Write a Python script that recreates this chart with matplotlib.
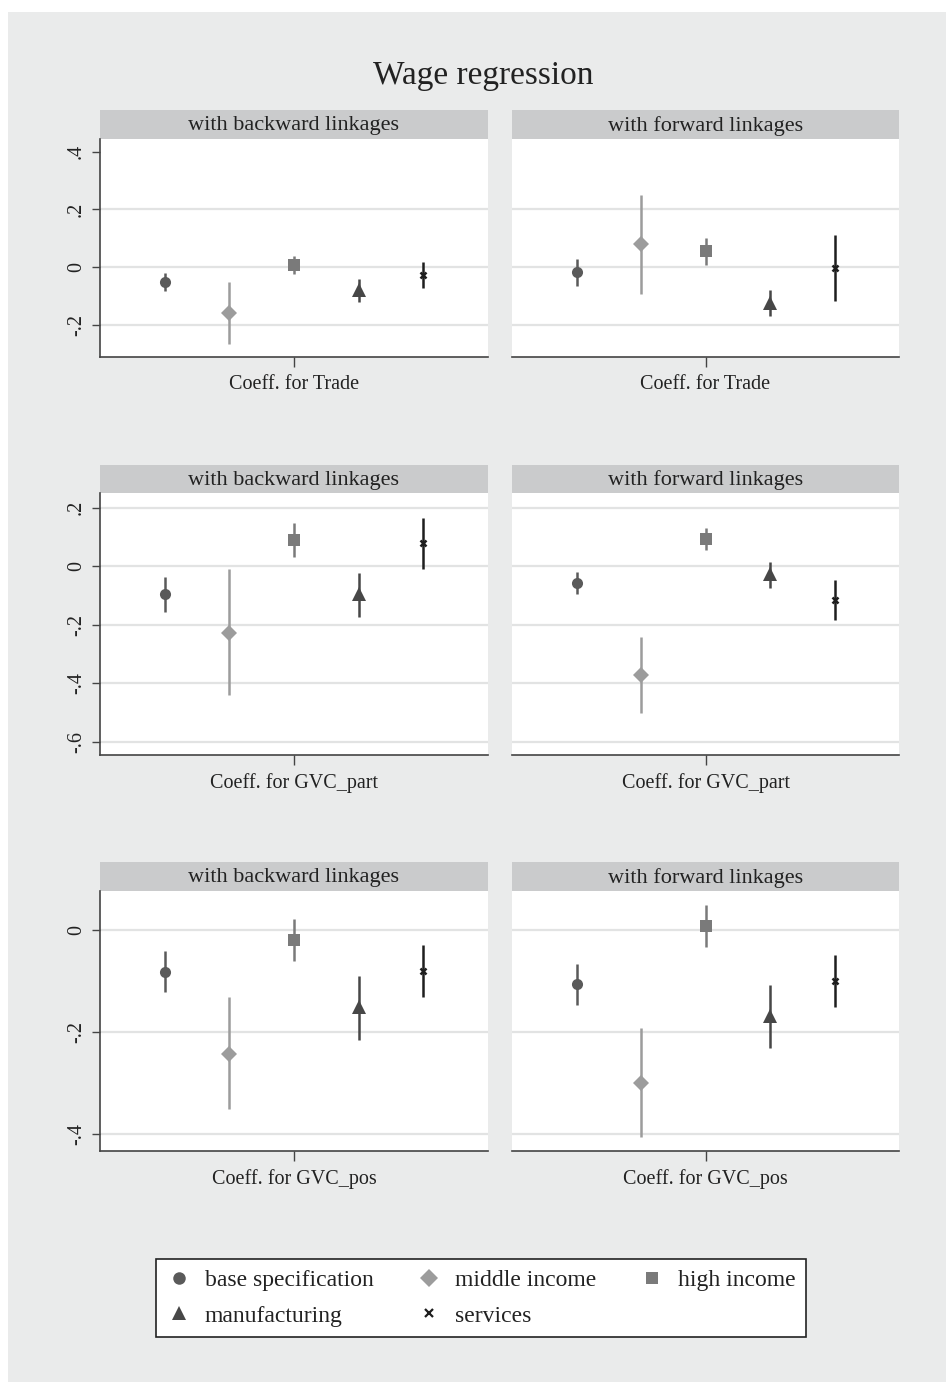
import matplotlib
matplotlib.use('Agg')
import matplotlib.pyplot as plt
from matplotlib.patches import Rectangle
from matplotlib.lines import Line2D

plt.rcParams['font.family'] = ['Liberation Serif', 'DejaVu Serif']

# groups, drawn left to right in every panel
groups = ['base specification', 'middle income', 'high income', 'manufacturing', 'services']
positions = [1, 2, 3, 4, 5]

# Coeff. for Trade
trade_back_b = [-0.051, -0.160, 0.006, -0.079, -0.027]
trade_back_lo = [-0.082, -0.267, -0.024, -0.120, -0.073]
trade_back_hi = [-0.021, -0.052, 0.039, -0.041, 0.017]
trade_fwd_b = [-0.017, 0.081, 0.054, -0.123, -0.004]
trade_fwd_lo = [-0.065, -0.093, 0.006, -0.171, -0.119]
trade_fwd_hi = [0.028, 0.250, 0.100, -0.081, 0.112]

# Coeff. for GVC_part
part_back_b = [-0.097, -0.228, 0.089, -0.096, 0.079]
part_back_lo = [-0.156, -0.441, 0.031, -0.173, -0.009]
part_back_hi = [-0.036, -0.011, 0.149, -0.025, 0.163]
part_fwd_b = [-0.058, -0.372, 0.093, -0.028, -0.116]
part_fwd_lo = [-0.096, -0.503, 0.055, -0.076, -0.184]
part_fwd_hi = [-0.020, -0.241, 0.131, 0.015, -0.048]

# Coeff. for GVC_pos
pos_back_b = [-0.082, -0.242, -0.020, -0.151, -0.080]
pos_back_lo = [-0.122, -0.351, -0.060, -0.215, -0.131]
pos_back_hi = [-0.041, -0.132, 0.022, -0.090, -0.030]
pos_fwd_b = [-0.106, -0.299, 0.007, -0.169, -0.099]
pos_fwd_lo = [-0.146, -0.406, -0.034, -0.232, -0.150]
pos_fwd_hi = [-0.066, -0.192, 0.049, -0.108, -0.048]

row_labels = ['Coeff. for Trade', 'Coeff. for GVC_part', 'Coeff. for GVC_pos']
strip_labels = ['with backward linkages', 'with forward linkages']
row_ticks = [[0.4, 0.2, 0, -0.2], [0.2, 0, -0.2, -0.4, -0.6], [0, -0.2, -0.4]]
row_ticklabels = [['.4', '.2', '0', '-.2'], ['.2', '0', '-.2', '-.4', '-.6'], ['0', '-.2', '-.4']]
row_ylims = [(-0.312, 0.444), (-0.646, 0.250), (-0.433, 0.0765)]

panels = [
    [(trade_back_b, trade_back_lo, trade_back_hi), (trade_fwd_b, trade_fwd_lo, trade_fwd_hi)],
    [(part_back_b, part_back_lo, part_back_hi), (part_fwd_b, part_fwd_lo, part_fwd_hi)],
    [(pos_back_b, pos_back_lo, pos_back_hi), (pos_fwd_b, pos_fwd_lo, pos_fwd_hi)],
]

markers = ['o', 'D', 's', '^', 'x']
msizes = [8, 8.5, 8, 9.5, 5]
colors = ['#5a5a5a', '#9c9c9c', '#7a7a7a', '#474747', '#1e1e1e']

W, H = 946, 1385
fig = plt.figure(figsize=(W / 100, H / 100), dpi=100, facecolor='#eaebeb')

# white margin strips round the grey graph region
for (x, y, w, h) in [(0, 0, 8, H), (0, 0, W, 12), (0, 1382, W, 3)]:
    fig.patches.append(Rectangle((x / W, 1 - (y + h) / H), w / W, h / H,
                                 transform=fig.transFigure, facecolor='white',
                                 edgecolor='none', zorder=-10))

fig.text(483 / W, 1 - 76 / H, 'Wage regression', ha='center', va='center',
         fontsize=24, color='#222222')

cols_px = [(100, 488), (512, 899)]
rows_px = [(110, 139, 357), (465, 493, 755), (862, 891, 1151)]

for r in range(3):
    head_top, plot_top, plot_bot = rows_px[r]
    for c in range(2):
        x0, x1 = cols_px[c]
        # strip header
        hax = fig.add_axes([x0 / W, 1 - plot_top / H, (x1 - x0) / W, (plot_top - head_top) / H])
        hax.set_facecolor('#cacbcc')
        hax.set_xticks([])
        hax.set_yticks([])
        for s in hax.spines.values():
            s.set_visible(False)
        hax.text(0.5, 0.45, strip_labels[c], ha='center', va='center',
                 fontsize=16, color='#222222', transform=hax.transAxes)

        ax = fig.add_axes([x0 / W, 1 - plot_bot / H, (x1 - x0) / W, (plot_bot - plot_top) / H])
        ax.set_facecolor('white')
        b, lo, hi = panels[r][c]
        for i in range(5):
            ax.plot([positions[i], positions[i]], [lo[i], hi[i]], color=colors[i],
                    lw=1.8, solid_capstyle='butt', zorder=3)
            ax.plot(positions[i], b[i], marker=markers[i], markersize=msizes[i],
                    color=colors[i], markeredgewidth=1.8 if markers[i] == 'x' else 0,
                    linestyle='none', zorder=4)
        ax.set_xlim(0, 6)
        ax.set_ylim(*row_ylims[r])
        ax.set_xticks([3])
        ax.set_xticklabels([row_labels[r]], fontsize=14.5, color='#222222')
        ax.tick_params(axis='x', length=7, width=1, color='#444444', pad=6)
        ax.set_yticks(row_ticks[r])
        for t in row_ticks[r]:
            if r == 0 and t == 0.4:
                continue
            ax.axhline(t, color='#e2e3e3', lw=1.6, zorder=1)
        ax.spines['top'].set_visible(False)
        ax.spines['right'].set_visible(False)
        ax.spines['bottom'].set_color('#444444')
        ax.spines['bottom'].set_linewidth(1.2)
        if c == 0:
            ax.set_yticklabels(row_ticklabels[r], rotation=90, va='center',
                               fontsize=14.5, color='#222222')
            ax.tick_params(axis='y', length=6, width=1, color='#444444', pad=4)
            ax.spines['left'].set_color('#444444')
            ax.spines['left'].set_linewidth(1.2)
        else:
            ax.set_yticklabels([])
            ax.tick_params(axis='y', length=0)
            ax.spines['left'].set_visible(False)

handles = [Line2D([0], [0], marker=markers[i], color=colors[i], linestyle='none',
                  markersize=msizes[i] + 1, markeredgewidth=1.6 if markers[i] == 'x' else 0)
           for i in range(5)]
# legend order row-wise: 3 columns, 2 rows
order_handles = [handles[0], handles[3], handles[1], handles[4], handles[2]]
order_labels = [groups[0], groups[3], groups[1], groups[4], groups[2]]
leg = fig.legend(order_handles, order_labels, ncol=3, loc='center',
                 bbox_to_anchor=(481 / W, 1 - 1298 / H), fontsize=17,
                 frameon=True, fancybox=False, edgecolor='#222222', framealpha=1,
                 facecolor='white', handletextpad=0.6, columnspacing=1.85, borderpad=0.45,
                 labelspacing=0.6, handlelength=1.0)
leg.get_frame().set_linewidth(1.2)
for t in leg.get_texts():
    t.set_color('#222222')

fig.savefig('out.png', dpi=100, facecolor=fig.get_facecolor())
